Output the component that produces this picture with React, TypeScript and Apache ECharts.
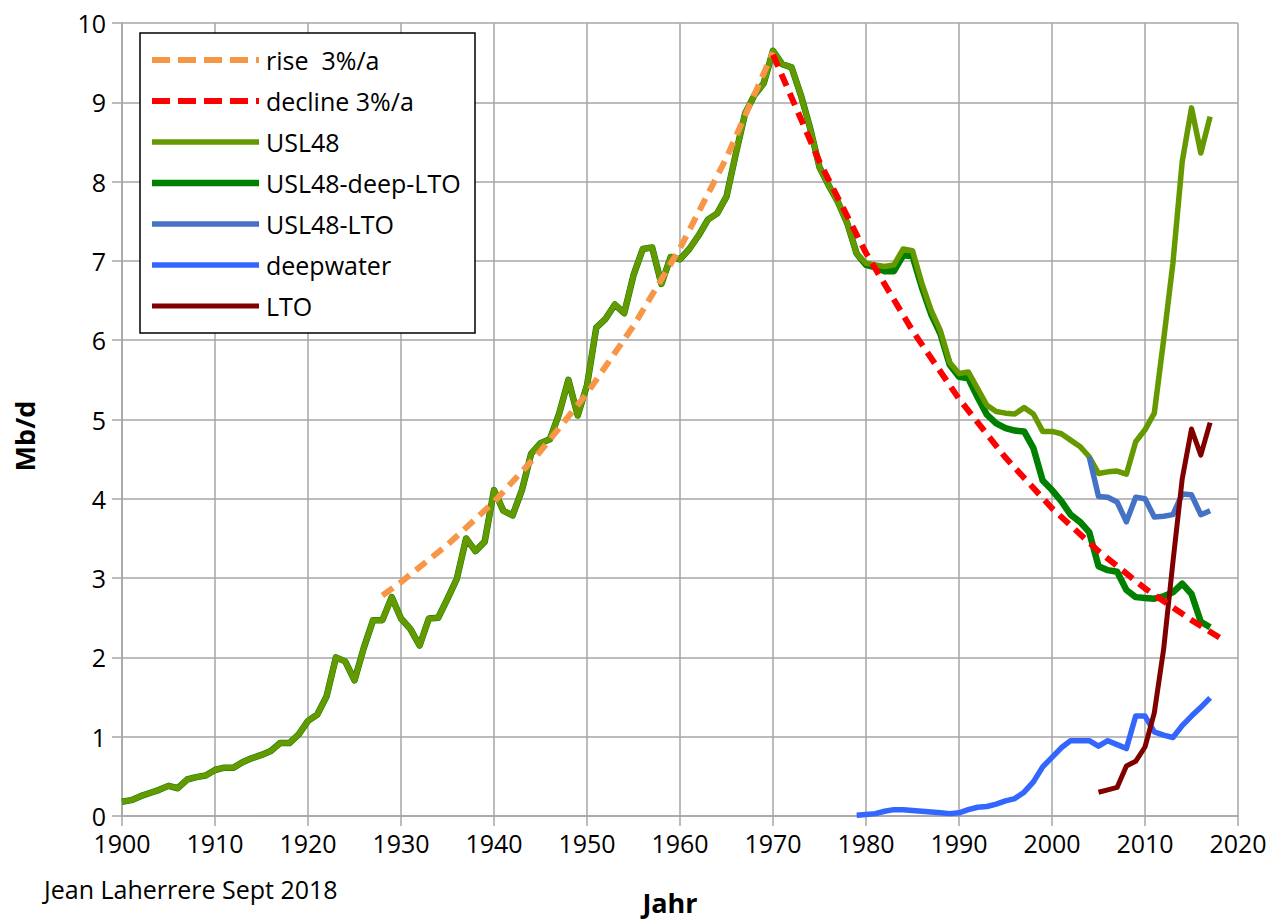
import React, { useEffect, useRef } from 'react';
import * as echarts from 'echarts';

const FONT = '"Open Sans", "Noto Sans", sans-serif';

// USL48 (Mb/d), yearly from 1900 to 2017
const USL48_START = 1900;
const usl48 = [
  0.18, 0.2, 0.25, 0.29, 0.33, 0.38, 0.35, 0.46, 0.49, 0.51,
  0.58, 0.61, 0.61, 0.68, 0.73, 0.77, 0.82, 0.92, 0.92, 1.03,
  1.2, 1.28, 1.51, 2.0, 1.95, 1.71, 2.12, 2.47, 2.47, 2.76,
  2.49, 2.36, 2.15, 2.49, 2.5, 2.74, 2.99, 3.5, 3.34, 3.46,
  4.11, 3.85, 3.79, 4.11, 4.57, 4.7, 4.75, 5.07, 5.5, 5.05,
  5.43, 6.16, 6.27, 6.45, 6.34, 6.82, 7.15, 7.17, 6.71, 7.05,
  7.02, 7.15, 7.32, 7.52, 7.6, 7.81, 8.35, 8.86, 9.09, 9.24,
  9.65, 9.48, 9.44, 9.09, 8.67, 8.18, 7.95, 7.74, 7.47, 7.09,
  6.97, 6.95, 6.93, 6.95, 7.15, 7.13, 6.72, 6.38, 6.12, 5.72,
  5.58, 5.6, 5.39, 5.18, 5.1, 5.08, 5.07, 5.15, 5.07, 4.85,
  4.85, 4.82, 4.74, 4.66, 4.53, 4.32, 4.34, 4.35, 4.31, 4.72,
  4.87, 5.08, 6.0, 6.97, 8.25, 8.93, 8.36, 8.82,
];

// USL48-deep-LTO: equal to USL48 until 1978, then read separately from 1979 to 2017
const DEEP_LTO_TAIL_START = 1979;
const usl48DeepLtoTail = [
  7.09, 6.95, 6.92, 6.87, 6.87, 7.07, 7.06, 6.67, 6.33, 6.08,
  5.69, 5.54, 5.52, 5.28, 5.06, 4.95, 4.89, 4.86, 4.85, 4.64,
  4.23, 4.11, 3.97, 3.8, 3.71, 3.58, 3.15, 3.1, 3.08, 2.85,
  2.76, 2.75, 2.74, 2.77, 2.82, 2.93, 2.8, 2.45, 2.38,
];

// USL48-LTO, 2004 to 2017
const USL48_LTO_START = 2004;
const usl48Lto = [4.53, 4.03, 4.02, 3.96, 3.71, 4.02, 4.0, 3.77, 3.78, 3.8, 4.06, 4.05, 3.8, 3.85];

// deepwater, 1979 to 2017
const DEEPWATER_START = 1979;
const deepwater = [
  0.01, 0.02, 0.03, 0.06, 0.08, 0.08, 0.07, 0.06, 0.05, 0.04,
  0.03, 0.04, 0.08, 0.11, 0.12, 0.15, 0.19, 0.22, 0.3, 0.43,
  0.62, 0.74, 0.86, 0.95, 0.95, 0.95, 0.88, 0.95, 0.9, 0.85,
  1.26, 1.26, 1.06, 1.02, 0.99, 1.14, 1.26, 1.37, 1.49,
];

// LTO, 2005 to 2017
const LTO_START = 2005;
const lto = [0.3, 0.33, 0.36, 0.63, 0.69, 0.87, 1.3, 2.1, 3.2, 4.25, 4.88, 4.55, 4.96];

// rise 3%/a (dashed), read at points
const riseYears = [1928, 1930, 1935, 1940, 1945, 1950, 1955, 1960, 1965, 1970];
const riseValues = [2.78, 2.95, 3.42, 3.96, 4.6, 5.33, 6.18, 7.16, 8.3, 9.63];

// decline 3%/a (dashed), read at points
const declineYears = [1970, 1975, 1980, 1985, 1990, 1995, 2000, 2005, 2010, 2015, 2018];
const declineValues = [9.6, 8.25, 7.1, 6.12, 5.26, 4.52, 3.88, 3.34, 2.87, 2.47, 2.25];

// legend order
const seriesNames = ['rise  3%/a', 'decline 3%/a', 'USL48', 'USL48-deep-LTO', 'USL48-LTO', 'deepwater', 'LTO'];
const seriesColors = ['#F79646', '#FF0000', '#669900', '#008000', '#4472C4', '#3366FF', '#800000'];
const seriesWidths = [6, 6, 5.5, 6.5, 5.5, 5.5, 5];
const seriesDashed = [true, true, false, false, false, false, false];

const X_MIN = 1900;
const X_MAX = 2020;
const X_STEP = 10;
const Y_MIN = 0;
const Y_MAX = 10;
const Y_STEP = 1;

const xAxisTitle = 'Jahr';
const yAxisTitle = 'Mb/d';
const credit = 'Jean Laherrere Sept 2018';

const fromStart = (start: number, vals: number[]) => vals.map((v, i) => [start + i, v]);
const pairs = (xs: number[], ys: number[]) => xs.map((x, i) => [x, ys[i]]);

export default function App() {
  const ref = useRef<HTMLDivElement>(null);

  useEffect(() => {
    document.body.style.margin = '0';
    const chart = echarts.init(ref.current!, undefined, { renderer: 'svg' });

    const deepLtoFull = usl48.slice(0, DEEP_LTO_TAIL_START - USL48_START).concat(usl48DeepLtoTail);

    const gray = '#A6A6A6';
    const DASH = [13, 8];

    const line = (idx: number, data: number[][], z: number) => ({
      name: seriesNames[idx],
      type: 'line',
      data,
      symbol: 'none',
      showSymbol: false,
      smooth: false,
      z,
      silent: true,
      lineStyle: {
        color: seriesColors[idx],
        width: seriesWidths[idx],
        type: seriesDashed[idx] ? DASH : 'solid',
        cap: 'butt',
        join: 'round',
      },
      itemStyle: { color: seriesColors[idx] },
      emphasis: { disabled: true },
    });

    // legend drawn as graphic elements
    const legendBox = { x: 140, y: 33, width: 335, height: 300 };
    const legendRow0 = 60;
    const legendRowStep = 41;
    const legendElems: any[] = [
      {
        type: 'rect',
        z: 8,
        shape: legendBox,
        style: { fill: '#ffffff', stroke: '#000000', lineWidth: 1.5 },
        silent: true,
      },
    ];
    seriesNames.forEach((name, i) => {
      const cy = legendRow0 + i * legendRowStep;
      legendElems.push({
        type: 'line',
        z: 9,
        silent: true,
        shape: { x1: 152, y1: cy, x2: 259, y2: cy },
        style: {
          stroke: seriesColors[i],
          lineWidth: seriesWidths[i],
          lineDash: seriesDashed[i] ? [18, 8] : null,
          lineCap: 'butt',
        },
      });
      legendElems.push({
        type: 'text',
        z: 9,
        silent: true,
        x: 266,
        y: cy,
        style: {
          text: name,
          font: '25px ' + FONT,
          fill: '#000',
          textAlign: 'left',
          textVerticalAlign: 'middle',
        },
      });
    });

    const option: any = {
      animation: false,
      backgroundColor: '#ffffff',
      textStyle: { fontFamily: FONT },
      grid: { left: 122, right: 39, top: 23, bottom: 104, containLabel: false, outerBoundsMode: 'none' },
      xAxis: {
        type: 'value',
        min: X_MIN,
        max: X_MAX,
        interval: X_STEP,
        axisLine: { show: true, lineStyle: { color: gray, width: 1.5 } },
        axisTick: { show: true, inside: false, length: 10, lineStyle: { color: gray, width: 1.5 } },
        axisLabel: {
          color: '#000',
          fontSize: 25,
          lineHeight: 22,
          fontFamily: FONT,
          margin: 16,
          formatter: (v: number) => String(v),
        },
        splitLine: { show: true, lineStyle: { color: gray, width: 1.5 } },
      },
      yAxis: {
        type: 'value',
        min: Y_MIN,
        max: Y_MAX,
        interval: Y_STEP,
        axisLine: { show: true, lineStyle: { color: gray, width: 1.5 } },
        axisTick: { show: true, inside: false, length: 10, lineStyle: { color: gray, width: 1.5 } },
        axisLabel: {
          color: '#000',
          fontSize: 25,
          lineHeight: 22,
          fontFamily: FONT,
          margin: 16,
          formatter: (v: number) => String(v),
        },
        splitLine: { show: true, lineStyle: { color: gray, width: 1.5 } },
      },
      graphic: [
        ...legendElems,
        {
          type: 'text',
          x: 24,
          y: 436,
          rotation: Math.PI / 2,
          z: 8,
          silent: true,
          style: {
            text: yAxisTitle,
            font: 'bold 27px ' + FONT,
            fill: '#000',
            textAlign: 'center',
            textVerticalAlign: 'middle',
          },
        },
        {
          type: 'text',
          x: 670,
          y: 902,
          z: 8,
          silent: true,
          style: {
            text: xAxisTitle,
            font: 'bold 27px ' + FONT,
            fill: '#000',
            textAlign: 'center',
            textVerticalAlign: 'middle',
          },
        },
        {
          type: 'text',
          x: 44,
          y: 889,
          z: 8,
          silent: true,
          style: {
            text: credit,
            font: '25px ' + FONT,
            fill: '#000',
            textAlign: 'left',
            textVerticalAlign: 'middle',
          },
        },
      ],
      series: [
        line(3, fromStart(USL48_START, deepLtoFull), 2),
        line(2, fromStart(USL48_START, usl48), 3),
        line(4, fromStart(USL48_LTO_START, usl48Lto), 4),
        line(5, fromStart(DEEPWATER_START, deepwater), 4),
        line(6, fromStart(LTO_START, lto), 5),
        line(0, pairs(riseYears, riseValues), 6),
        line(1, pairs(declineYears, declineValues), 6),
      ],
    };

    chart.setOption(option);
    return () => chart.dispose();
  }, []);

  return (
    <div
      ref={ref}
      style={{ position: 'absolute', left: 0, top: 0, width: 1277, height: 920, background: '#fff' }}
    />
  );
}
